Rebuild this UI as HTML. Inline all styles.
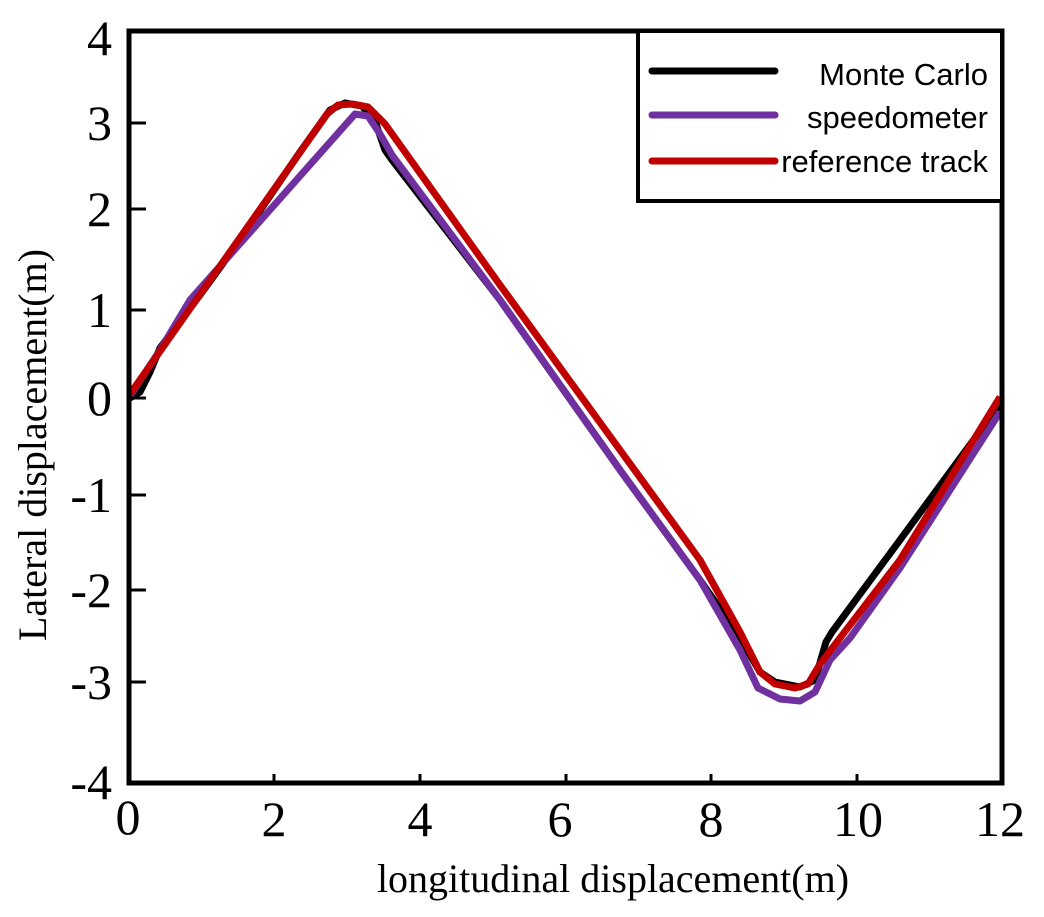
<!DOCTYPE html>
<html><head><meta charset="utf-8"><style>
html,body{margin:0;padding:0;background:#fff;}
svg{display:block;}
</style></head><body>
<svg width="1044" height="917" viewBox="0 0 1044 917" xmlns="http://www.w3.org/2000/svg">
<rect x="0" y="0" width="1044" height="917" fill="#fff"/>
<polyline fill="none" stroke="#000" stroke-width="7" stroke-linejoin="round" points="130,398 140,392 150,372 160,348 200,295 240,240 300,152 330,110 345,103 362,106 376,124 385,150 392,160 500,300 620,470 700,580 740,638 760,672 775,682 800,687 815,680 826,642 832,632 900,540 1000,404"/>
<polyline fill="none" stroke="#7030a0" stroke-width="7" stroke-linejoin="round" points="130,396 160,350 190,300 355,114 368,116 380,134 392,155 500,300 620,470 700,580 740,650 758,688 780,699 800,701 815,692 830,660 850,638 900,568 1000,412"/>
<polyline fill="none" stroke="#c00000" stroke-width="7" stroke-linejoin="round" points="130,394 327,114 338,105 352,104 368,107 385,124 500,285 620,450 700,560 740,632 760,672 775,684 795,688 808,684 820,664 900,560 1000,397"/>
<rect x="129" y="31" width="873" height="752" fill="none" stroke="#000" stroke-width="5"/>
<g stroke="#000" stroke-width="3">
<line x1="129" y1="123" x2="146" y2="123"/>
<line x1="129" y1="209" x2="146" y2="209"/>
<line x1="129" y1="310" x2="146" y2="310"/>
<line x1="129" y1="398" x2="146" y2="398"/>
<line x1="129" y1="495" x2="146" y2="495"/>
<line x1="129" y1="590" x2="146" y2="590"/>
<line x1="129" y1="682" x2="146" y2="682"/>
<line x1="274" y1="783" x2="274" y2="774"/>
<line x1="420" y1="783" x2="420" y2="774"/>
<line x1="566" y1="783" x2="566" y2="774"/>
<line x1="711" y1="783" x2="711" y2="774"/>
<line x1="857" y1="783" x2="857" y2="774"/>
</g>
<g font-family="Liberation Serif, serif" font-size="50" fill="#000" text-anchor="end">
<text x="112" y="55">4</text>
<text x="112" y="140">3</text>
<text x="112" y="226">2</text>
<text x="112" y="327">1</text>
<text x="112" y="415">0</text>
<text x="112" y="512">-1</text>
<text x="112" y="607">-2</text>
<text x="112" y="699">-3</text>
<text x="112" y="799">-4</text>
</g>
<g font-family="Liberation Serif, serif" font-size="50" fill="#000" text-anchor="middle">
<text x="128" y="834">0</text>
<text x="274" y="836">2</text>
<text x="420" y="836">4</text>
<text x="560" y="836">6</text>
<text x="711" y="836">8</text>
<text x="858" y="836">10</text>
<text x="1000" y="836">12</text>
</g>
<text x="613" y="892" text-anchor="middle" font-family="Liberation Serif, serif" font-size="40" fill="#000">longitudinal displacement(m)</text>
<text transform="translate(46,445) rotate(-90)" text-anchor="middle" font-family="Liberation Serif, serif" font-size="40" fill="#000">Lateral displacement(m)</text>
<rect x="638" y="31" width="364" height="170" fill="#fff" stroke="#000" stroke-width="4"/>
<g stroke-width="7" stroke-linecap="round">
<line x1="652" y1="71" x2="775" y2="71" stroke="#000"/>
<line x1="652" y1="115" x2="775" y2="115" stroke="#7030a0"/>
<line x1="652" y1="161" x2="775" y2="161" stroke="#c00000"/>
</g>
<g font-family="Liberation Sans, sans-serif" font-size="31" fill="#000" text-anchor="end">
<text x="988" y="85">Monte Carlo</text>
<text x="988" y="128">speedometer</text>
<text x="988" y="172">reference track</text>
</g>
</svg>
</body></html>
